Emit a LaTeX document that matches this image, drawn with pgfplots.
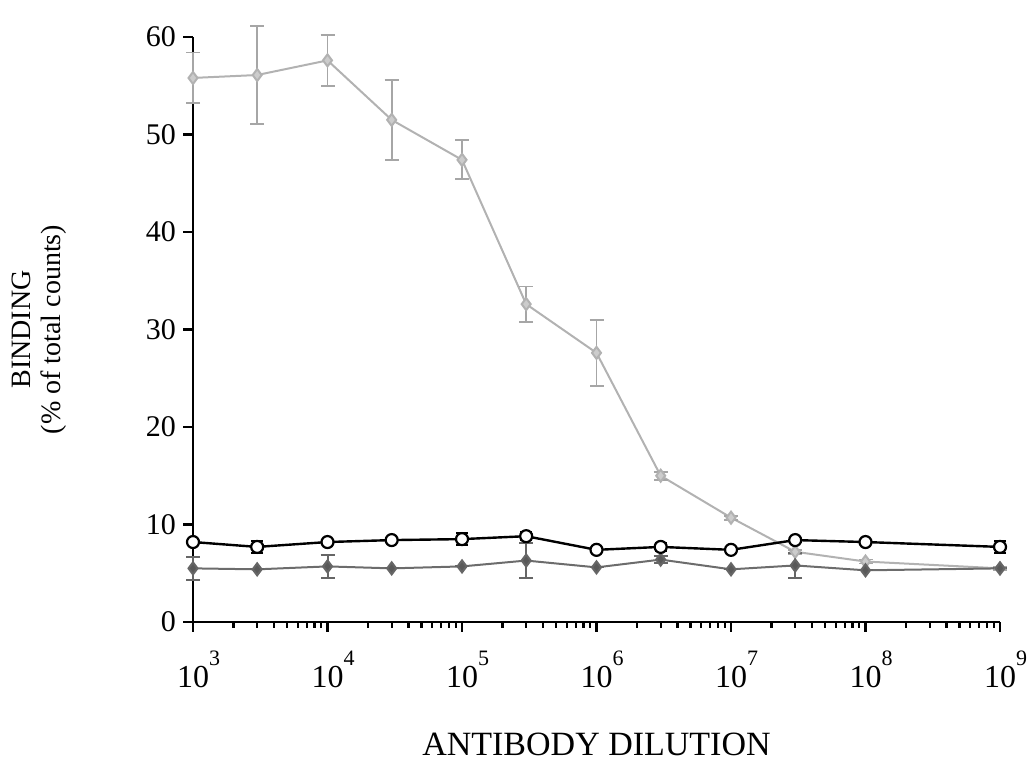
\documentclass[border=0pt]{standalone}
\usepackage{pgfplots}
\pgfplotsset{compat=1.18}
\usepackage{fontspec}
\setmainfont{Liberation Serif}
\newcommand{\tl}[1]{10\rlap{\raisebox{10.8pt}{\fontsize{11}{11}\selectfont #1}}}
\begin{document}
\begin{tikzpicture}
\begin{axis}[
  scale only axis, width=403.5pt, height=292.5pt,
  xmode=log, xmin=1e3, xmax=1e9, ymin=0, ymax=60,
  axis x line=bottom, axis y line=left,
  axis line style={-, line width=1.3pt, black},
  ytick={0,10,20,30,40,50,60},
  xtick={1e3,1e4,1e5,1e6,1e7,1e8,1e9},
  xticklabels={\tl{3},\tl{4},\tl{5},\tl{6},\tl{7},\tl{8},\tl{9}},
  /pgf/number format/assume math mode=true,
  tick align=outside, major tick length=5pt, minor tick length=3pt,
  every tick/.style={line width=1.1pt, black},
  yticklabel style={font=\fontsize{15}{17}\selectfont},
  xticklabel style={font=\fontsize{16}{18}\selectfont, yshift=-6pt},
  xlabel={ANTIBODY DILUTION},
  ylabel={BINDING\\(\% of total counts)},
  xlabel style={font=\fontsize{17}{18}\selectfont, at={(axis description cs:0.5,-0.21)}, anchor=center},
  ylabel style={font=\fontsize{14}{15}\selectfont, at={(axis description cs:-0.19,0.5)}, anchor=center, align=center},
  clip=false,
]
\addplot[gray!60, line width=1pt, mark=diamond*, mark size=3pt,
  mark options={fill=gray!40, draw=gray!60},
  error bars/.cd, y dir=both, y explicit,
  error bar style={gray!70, line width=0.9pt},
  error mark options={rotate=90, mark size=3.5pt, gray!70, line width=0.9pt}]
  table[x=x, y=y, y error=e] {
x y e
1e3 55.8 2.6
3e3 56.1 5.0
1e4 57.6 2.6
3e4 51.5 4.1
1e5 47.4 2.0
3e5 32.6 1.8
1e6 27.6 3.4
3e6 15.0 0.4
1e7 10.7 0.2
3e7 7.2 0.2
1e8 6.2 0.2
1e9 5.5 0.2
};
\addplot[gray!85!black, line width=1pt, mark=diamond*, mark size=3pt,
  mark options={fill=gray!70!black, draw=gray!80!black},
  error bars/.cd, y dir=both, y explicit,
  error bar style={gray!80!black, line width=1pt},
  error mark options={rotate=90, mark size=3.5pt, gray!80!black, line width=1pt}]
  table[x=x, y=y, y error=e] {
x y e
1e3 5.5 1.2
3e3 5.4 0
1e4 5.7 1.2
3e4 5.5 0
1e5 5.7 0
3e5 6.3 1.8
1e6 5.6 0
3e6 6.4 0.4
1e7 5.4 0
3e7 5.8 1.3
1e8 5.3 0
1e9 5.5 0
};
\addplot[black, line width=1.2pt, mark=*, mark size=3pt,
  mark options={fill=white, draw=black, line width=1.1pt},
  error bars/.cd, y dir=both, y explicit,
  error bar style={black, line width=1.1pt},
  error mark options={rotate=90, mark size=3pt, black, line width=1.1pt}]
  table[x=x, y=y, y error=e] {
x y e
1e3 8.2 0
3e3 7.7 0.6
1e4 8.2 0
3e4 8.4 0
1e5 8.5 0.6
3e5 8.8 0.4
1e6 7.4 0
3e6 7.7 0.4
1e7 7.4 0
3e7 8.4 0
1e8 8.2 0
1e9 7.7 0.6
};
\coordinate (sw) at (rel axis cs:0,0);
\coordinate (ne) at (rel axis cs:1,1);
\end{axis}
\pgfresetboundingbox
\path ([shift={(-96.5pt,-69.5pt)}]sw) rectangle ([shift={(13.5pt,18.5pt)}]ne);
\end{tikzpicture}
\end{document}
